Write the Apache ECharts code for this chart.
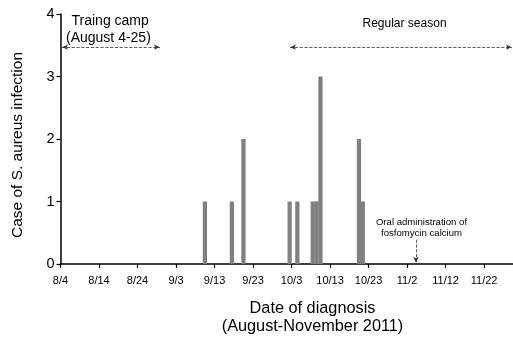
<!DOCTYPE html>
<html>
<head>
<meta charset="utf-8">
<script src="https://cdn.jsdelivr.net/npm/echarts@6/dist/echarts.min.js"></script>
<style>
  html, body { margin: 0; padding: 0; background: #fff; }
  #chart { width: 513px; height: 338px; }
</style>
</head>
<body>
<div id="chart"></div>
<script>
// 数据
var startDate = '2011-08-04';
var tickDates = ['8/4', '8/14', '8/24', '9/3', '9/13', '9/23', '10/3', '10/13', '10/23', '11/2', '11/12', '11/22'];
var caseDates = ['9/10', '9/17', '9/20', '10/2', '10/4', '10/8', '10/9', '10/10', '10/20', '10/21'];
var caseCounts = [1, 1, 2, 1, 1, 1, 1, 3, 2, 1];
var axisMaxDay = 117.5;

// 日期 -> 距 8/4 的天数
var t0 = new Date(startDate + 'T00:00:00Z').getTime();
function dayOf(md) {
	var p = md.split('/');
	return (Date.UTC(2011, +p[0] - 1, +p[1]) - t0) / 86400000;
}
function labelOf(d) {
	var dt = new Date(t0 + d * 86400000);
	return (dt.getUTCMonth() + 1) + '/' + dt.getUTCDate();
}

var tickDays = tickDates.map(dayOf);
var barData = caseDates.map(function(d, i) {
	return [dayOf(d) + 0.5, caseCounts[i]];
});

var FONT = 'Liberation Sans';
var gridLeft = 60.5, gridRight = 0;
var dayPx = (513 - gridLeft - gridRight) / axisMaxDay;

var myChart = echarts.init(document.getElementById('chart'));

var option = {
	animation : false,
	grid : {
		left : gridLeft,
		right : gridRight,
		top : 14,
		bottom : 74
	},
	xAxis : {
		type : 'value',
		min : 0,
		max : axisMaxDay,
		interval : 10,
		splitLine : { show : false },
		axisLine : { show : true, lineStyle : { color : '#000', width : 1.5 } },
		axisTick : {
			show : true,
			length : 4,
			customValues : tickDays,
			lineStyle : { color : '#000', width : 1.2 }
		},
		axisLabel : {
			customValues : tickDays,
			margin : 11,
			color : '#000',
			fontFamily : FONT,
			fontSize : 11,
			formatter : function(v) { return labelOf(v); }
		}
	},
	yAxis : {
		type : 'value',
		min : 0,
		max : 4,
		interval : 1,
		splitLine : { show : false },
		axisLine : { show : true, lineStyle : { color : '#000', width : 1.5 } },
		axisTick : { show : true, length : 4, lineStyle : { color : '#000', width : 1.2 } },
		axisLabel : {
			margin : 6,
			color : '#000',
			fontFamily : FONT,
			fontSize : 14.5
		}
	},
	series : [ {
		type : 'bar',
		data : barData,
		barWidth : dayPx + 0.4,
		itemStyle : { color : '#808080' },
		markLine : {
			silent : true,
			symbol : [ 'arrow', 'arrow' ],
			symbolSize : [ 4, 6 ],
			label : { show : false },
			lineStyle : { type : 'dashed', color : '#333', width : 0.8 },
			data : [
				[ { coord : [ 0.4, 3.47 ] }, { coord : [ 25.8, 3.47 ] } ], // 训练营
				[ { coord : [ 59.6, 3.47 ] }, { coord : [ 117.2, 3.47 ] } ], // 常规赛季
				[ { coord : [ 92.3, 0.39 ], symbol : 'none' }, { coord : [ 92.3, 0.02 ] } ] // 口服磷霉素
			]
		}
	} ],
	graphic : [
		{ type : 'text', x : 17.5, y : 145, rotation : Math.PI / 2,
		  style : { text : 'Case of S. aureus infection', font : '15.5px ' + FONT, fill : '#000', textAlign : 'center', textVerticalAlign : 'middle' } },
		{ type : 'text', x : 312.5, y : 309,
		  style : { text : 'Date of diagnosis', font : '16.3px ' + FONT, fill : '#000', textAlign : 'center', textVerticalAlign : 'middle' } },
		{ type : 'text', x : 312.5, y : 327,
		  style : { text : '(August-November 2011)', font : '16.3px ' + FONT, fill : '#000', textAlign : 'center', textVerticalAlign : 'middle' } },
		{ type : 'text', x : 71.5, y : 21,
		  style : { text : 'Traing camp', font : '14px ' + FONT, fill : '#000', textAlign : 'left', textVerticalAlign : 'middle' } },
		{ type : 'text', x : 66, y : 38.5,
		  style : { text : '(August 4-25)', font : '14px ' + FONT, fill : '#000', textAlign : 'left', textVerticalAlign : 'middle' } },
		{ type : 'text', x : 362.5, y : 24,
		  style : { text : 'Regular season', font : '12px ' + FONT, fill : '#000', textAlign : 'left', textVerticalAlign : 'middle' } },
		{ type : 'text', x : 421.5, y : 222.5,
		  style : { text : 'Oral administration of', font : '9.6px ' + FONT, fill : '#000', textAlign : 'center', textVerticalAlign : 'middle' } },
		{ type : 'text', x : 421.5, y : 233,
		  style : { text : 'fosfomycin calcium', font : '9.6px ' + FONT, fill : '#000', textAlign : 'center', textVerticalAlign : 'middle' } }
	]
};

myChart.setOption(option);
</script>
</body>
</html>
